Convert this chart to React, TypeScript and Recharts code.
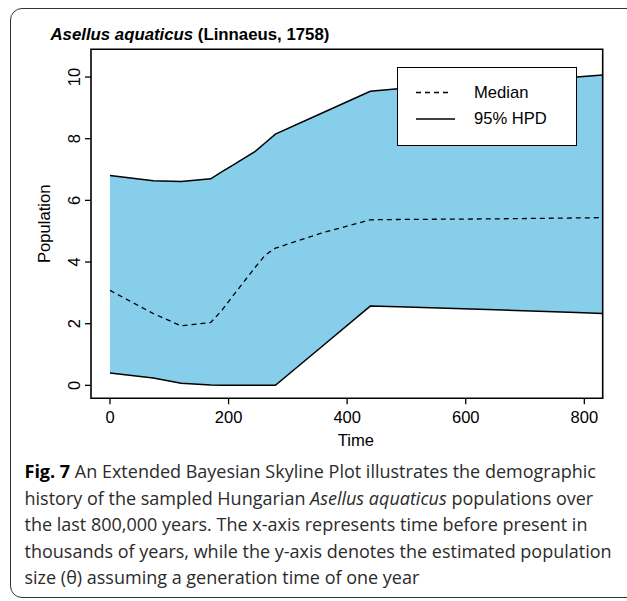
import React from 'react';
import {
  ComposedChart,
  Area,
  Line,
  XAxis,
  YAxis,
  Legend,
  ReferenceArea,
  Label,
} from 'recharts';

// time before present (ka) and population estimates
const times = [0, 73, 120, 170, 189, 206, 245, 262, 279, 355, 439, 486, 650, 787, 831];
const upper = [6.81, 6.64, 6.61, 6.7, 6.93, 7.13, 7.59, 7.87, 8.15, 8.81, 9.54, 9.62, 9.8, 10.0, 10.07];
const median = [3.08, 2.33, 1.93, 2.04, 2.44, 2.87, 3.83, 4.23, 4.45, 4.93, 5.37, 5.38, 5.4, 5.43, 5.44];
const lower = [0.4, 0.24, 0.07, 0.01, 0, 0, 0, 0, 0, 1.22, 2.57, 2.55, 2.45, 2.36, 2.33];

const xTicks = [0, 200, 400, 600, 800];
const yTicks = [0, 2, 4, 6, 8, 10];
const X_DOMAIN: [number, number] = [-32, 831];
const Y_DOMAIN: [number, number] = [-0.42, 10.9];

const captionLines: React.ReactNode[] = [
  <>
    <b style={{ color: '#000' }}>Fig. 7</b> An Extended Bayesian Skyline Plot illustrates the demographic
  </>,
  <>
    history of the sampled Hungarian <i>Asellus aquaticus</i> populations over
  </>,
  <>the last 800,000 years. The x-axis represents time before present in</>,
  <>thousands of years, while the y-axis denotes the estimated population</>,
  <>size (θ) assuming a generation time of one year</>,
];

const data = times.map((t, i) => ({
  time: t,
  band: [lower[i], upper[i]],
  upper: upper[i],
  lower: lower[i],
  median: median[i],
}));

const FONT = '"Liberation Sans", Arial, Helvetica, sans-serif';
const SKY = '#87CEEB';

const XTick = (props: any) => {
  const { x, payload } = props;
  return (
    <text x={x} y={417} textAnchor="middle" dominantBaseline="central" fontFamily={FONT} fontSize={16.5} fill="#000">
      {payload.value}
    </text>
  );
};

const YTick = (props: any) => {
  const { y, payload } = props;
  return (
    <text
      x={74.5}
      y={y}
      transform={`rotate(-90 74.5 ${y})`}
      textAnchor="middle"
      dominantBaseline="central"
      fontFamily={FONT}
      fontSize={16.5}
      fill="#000"
    >
      {payload.value}
    </text>
  );
};

const LegendBox = () => (
  <div
    style={{
      width: 180,
      height: 79,
      boxSizing: 'border-box',
      border: '1.5px solid #000',
      background: '#fff',
    }}
  >
    <svg width={177} height={76} style={{ display: 'block' }}>
      <line x1={18} x2={52} y1={24.5} y2={24.5} stroke="#000" strokeWidth={1.3} strokeDasharray="5 4" />
      <line x1={18} x2={57} y1={51} y2={51} stroke="#000" strokeWidth={1.5} />
      <text x={76} y={24} dominantBaseline="central" fontFamily={FONT} fontSize={16.6} fill="#000">
        Median
      </text>
      <text x={76} y={50.5} dominantBaseline="central" fontFamily={FONT} fontSize={16.6} fill="#000">
        95% HPD
      </text>
    </svg>
  </div>
);

export default function App() {
  return (
    <div
      style={{
        position: 'absolute',
        left: 0,
        top: 0,
        width: 627,
        height: 601,
        overflow: 'hidden',
        background: '#fff',
      }}
    >
      <div
        style={{
          position: 'absolute',
          left: 9.5,
          top: 8,
          width: 640,
          height: 590,
          boxSizing: 'border-box',
          border: '1.4px solid #333',
          borderRadius: 12,
        }}
      />
      <div
        style={{
          position: 'absolute',
          left: 50.5,
          top: 26.5,
          fontFamily: FONT,
          fontWeight: 'bold',
          fontSize: 16.8,
          lineHeight: '16.8px',
          whiteSpace: 'nowrap',
          color: '#000',
        }}
      >
        <i>Asellus aquaticus</i> (Linnaeus, 1758)
      </div>
      <div style={{ position: 'absolute', left: 0, top: 0 }}>
        <ComposedChart
          width={627}
          height={460}
          data={data}
          margin={{ top: 49.3, right: 24.3, left: 31, bottom: 31.7 }}
        >
          <XAxis
            dataKey="time"
            type="number"
            domain={X_DOMAIN}
            ticks={xTicks}
            allowDataOverflow
            axisLine={false}
            tickSize={6}
            tickLine={{ stroke: '#000', strokeWidth: 1.3 }}
            tick={<XTick />}
            height={30}
          >
            <Label
              content={(p: any) => {
                const vb = p.viewBox;
                return (
                  <text
                    x={vb.x + vb.width / 2 + 9}
                    y={vb.y + 47.4}
                    textAnchor="middle"
                    fontFamily={FONT}
                    fontSize={16.6}
                    fill="#000"
                  >
                    Time
                  </text>
                );
              }}
            />
          </XAxis>
          <YAxis
            type="number"
            domain={Y_DOMAIN}
            ticks={yTicks}
            allowDataOverflow
            axisLine={false}
            tickSize={6}
            tickLine={{ stroke: '#000', strokeWidth: 1.3 }}
            tick={<YTick />}
            width={60}
          >
            <Label
              value="Population"
              angle={-90}
              position="insideLeft"
              offset={13.5}
              style={{ textAnchor: 'middle', fontFamily: FONT, fontSize: 16.6, fill: '#000' }}
            />
          </YAxis>
          <Legend
            layout="vertical"
            align="center"
            verticalAlign="middle"
            content={<LegendBox />}
            wrapperStyle={{ left: 397.3, top: 66.7, width: 180, height: 79 }}
          />
          <Area
            type="linear"
            dataKey="band"
            fill={SKY}
            fillOpacity={1}
            stroke="none"
            isAnimationActive={false}
            legendType="none"
          />
          <Line
            type="linear"
            dataKey="upper"
            stroke="#000"
            strokeWidth={1.5}
            dot={false}
            activeDot={false}
            isAnimationActive={false}
          />
          <Line
            type="linear"
            dataKey="lower"
            stroke="#000"
            strokeWidth={1.5}
            dot={false}
            activeDot={false}
            isAnimationActive={false}
          />
          <Line
            type="linear"
            dataKey="median"
            stroke="#000"
            strokeWidth={1.3}
            strokeDasharray="5 4"
            dot={false}
            activeDot={false}
            isAnimationActive={false}
          />
          <ReferenceArea
            x1={X_DOMAIN[0]}
            x2={X_DOMAIN[1]}
            y1={Y_DOMAIN[0]}
            y2={Y_DOMAIN[1]}
            fill="none"
            stroke="#000"
            strokeWidth={1.6}
            ifOverflow="visible"
          />
        </ComposedChart>
      </div>
      <div
        style={{
          position: 'absolute',
          left: 24.5,
          top: 458.3,
          fontFamily: '"Open Sans", sans-serif',
          fontSize: 18,
          lineHeight: '26.5px',
          color: '#2b2b2b',
          whiteSpace: 'nowrap',
        }}
      >
        {captionLines.map((ln, i) => (
          <div key={i}>{ln}</div>
        ))}
      </div>
    </div>
  );
}
